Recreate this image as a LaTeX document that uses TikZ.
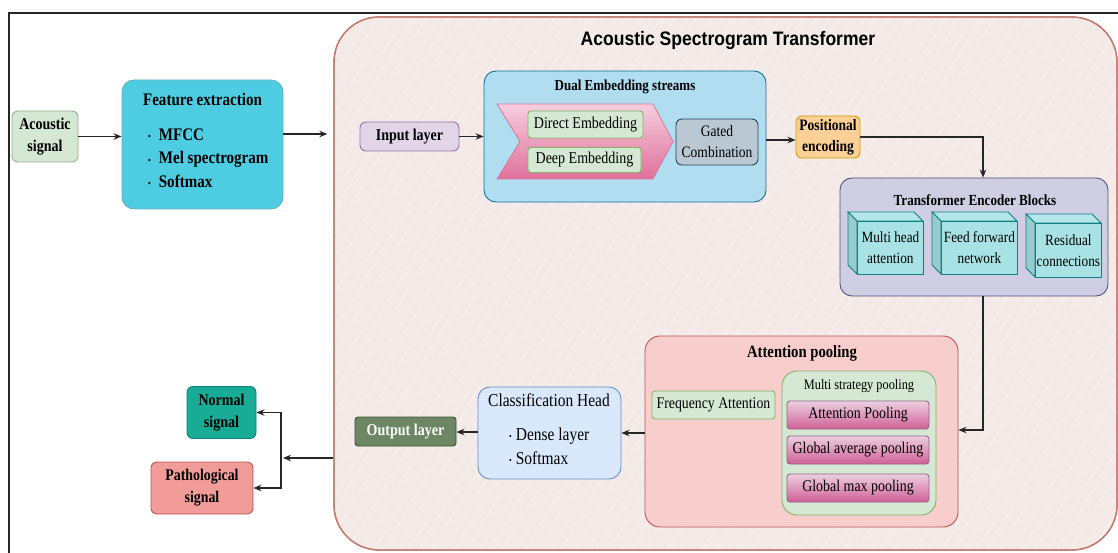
\documentclass[tikz,border=0pt]{standalone}
\usepackage{fontspec}
\setmainfont{Liberation Serif}[FakeStretch=0.85]
\setsansfont{Liberation Sans}[FakeStretch=0.9]
\usetikzlibrary{arrows.meta,calc}
\definecolor{acgf}{HTML}{D5E8D4}
\definecolor{acgd}{HTML}{9AAE93}
\definecolor{featf}{RGB}{78,205,226}
\definecolor{featd}{HTML}{6AAFC0}
\definecolor{astf}{RGB}{243,233,231}
\definecolor{astd}{RGB}{196,120,110}
\definecolor{inpf}{HTML}{E1D5E7}
\definecolor{inpd}{HTML}{9673A6}
\definecolor{dualf}{HTML}{B1DDF0}
\definecolor{duald}{HTML}{10739E}
\definecolor{chevA}{RGB}{246,206,222}
\definecolor{chevB}{RGB}{224,112,156}
\definecolor{chevd}{RGB}{214,120,158}
\definecolor{grnf}{HTML}{D5E8D4}
\definecolor{grnd}{HTML}{82B366}
\definecolor{gatf}{HTML}{BAC8D3}
\definecolor{gatd}{HTML}{23445D}
\definecolor{posf}{RGB}{250,208,150}
\definecolor{posd}{HTML}{D79B00}
\definecolor{trf}{HTML}{D0CEE2}
\definecolor{trd}{HTML}{56517E}
\definecolor{cubef}{RGB}{168,226,228}
\definecolor{cubed}{HTML}{0E8088}
\definecolor{apf}{HTML}{F8CECC}
\definecolor{apd}{HTML}{B85450}
\definecolor{pinkA}{RGB}{236,208,224}
\definecolor{pinkB}{RGB}{208,96,150}
\definecolor{pinkd}{HTML}{996185}
\definecolor{clf}{HTML}{DAE8FC}
\definecolor{cld}{HTML}{6C8EBF}
\definecolor{outf}{HTML}{6D8764}
\definecolor{outd}{HTML}{3A5431}
\definecolor{normf}{RGB}{24,172,150}
\definecolor{normd}{HTML}{0E8088}
\definecolor{patf}{HTML}{F19C99}
\definecolor{patd}{HTML}{B85450}
\newcommand{\bulA}{\raisebox{0.5pt}{\fontsize{9}{9}\selectfont\textbullet}\hspace{8pt}}
\newcommand{\bulB}{\raisebox{0.5pt}{\fontsize{9}{9}\selectfont\textbullet}\hspace{4pt}}
\newcommand{\mycube}[6]{%
  \draw[cubed, fill=cubef!85!white, line width=0.8pt] (#1,#2) -- (#3-9,#2) -- (#3,#2+9) -- (#1+9,#2+9) -- cycle;
  \draw[cubed, fill=cubef!90!black, line width=0.8pt] (#1,#2) -- (#1+9,#2+9) -- (#1+9,#4) -- (#1,#4-9) -- cycle;
  \node[cubed, draw, fill=cubef, line width=0.8pt, anchor=north west, inner sep=0pt, align=center,
        minimum width={#3-#1-9}, minimum height={#4-#2-9}, text=black,
        font=\fontsize{15.6}{21}\selectfont] (#5) at (#1+9,#2+9) {#6};}
\tikzset{
  box/.style={draw, rounded corners=6pt, align=center, inner sep=0pt, line width=0.9pt},
  arr/.style={-{Stealth[length=8pt,width=6.5pt]}, line width=1.2pt, draw=black!85},
}
\begin{document}
\begin{tikzpicture}[x=1pt,y=-1pt]
\useasboundingbox (0,0) rectangle (1118,553);
% outer frame
\draw[line width=2pt, black!85] (9,553) -- (9,13) -- (1118,13);

% big container
\node[draw=astd, fill=astf, rounded corners=45pt, minimum width=783, minimum height=533, inner sep=0pt, line width=1.3pt] (ast) at (725.5,283.5) {};
\begin{scope}
  \clip[rounded corners=45pt] (334,17) rectangle (1117,550);
  \foreach \i in {0,...,160} {
    \pgfmathsetmacro{\xx}{4+\i*7.1+mod(\i*37,5)}
    \pgfmathsetmacro{\ww}{0.3+mod(\i*7,5)*0.25}
    \draw[white, opacity=0.4, line width=\ww pt] (\xx,560) -- ++(330,-560);
  }
\end{scope}
\draw[astd, line width=1.3pt, rounded corners=45pt] (334,17) rectangle (1117,550);

\node[font=\sffamily\bfseries\fontsize{19.5}{22}\selectfont] (title) at (728,41) {Acoustic Spectrogram Transformer};

% left part
\node[box, fill=acgf, draw=acgd, minimum width=66, minimum height=51, font=\bfseries\fontsize{16.5}{22}\selectfont] (acoustic) at (45,136.5) {Acoustic\\signal};
\node[box, rounded corners=12pt, fill=featf, draw=featd, minimum width=161, minimum height=129] (feature) at (202.5,144.5) {};
\node[font=\bfseries\fontsize{17.7}{20}\selectfont] (featT) at (202.5,99) {Feature extraction};
\node[anchor=west, align=left, inner sep=0pt, font=\bfseries\fontsize{17.7}{23.5}\selectfont] (featL) at (148,158) {\bulA MFCC\\ \bulA Mel spectrogram\\ \bulA Softmax};

\draw[arr] (acoustic.east) -- (feature.west |- acoustic.east);
\draw[arr, shorten >=6pt] (feature.east |- 0,134) -- (ast.west |- 0,134);

% input & dual embedding
\node[box, fill=inpf, draw=inpd, minimum width=99, minimum height=29, font=\bfseries\fontsize{16.5}{19}\selectfont] (input) at (409.5,136.5) {Input layer};
\node[box, rounded corners=12pt, fill=dualf, draw=duald, minimum width=282, minimum height=131] (dual) at (625,136.5) {};
\node[font=\bfseries\fontsize{15.3}{18}\selectfont] (dualT) at (625,87) {Dual Embedding streams};
\draw[draw=chevd, line width=0.8pt, top color=chevA, bottom color=chevB] (497,104) -- (653,104) -- (673,141.5) -- (653,179) -- (497,179) -- (520,141.5) -- cycle;
\node[box, rounded corners=3pt, fill=grnf, draw=grnd, minimum width=115, minimum height=27, font=\fontsize{16.5}{19}\selectfont] (direct) at (585.5,124.5) {Direct Embedding};
\node[box, rounded corners=3pt, fill=grnf, draw=grnd, minimum width=113, minimum height=25, font=\fontsize{16.5}{19}\selectfont] (deep) at (584.5,160) {Deep Embedding};
\node[box, fill=gatf, draw=gatd, minimum width=82, minimum height=46, font=\fontsize{15.9}{21}\selectfont] (gated) at (717,142) {Gated\\Combination};
\draw[arr] (input.east) -- (dual.west |- input.east);

\node[box, fill=posf, draw=posd, minimum width=64, minimum height=42, font=\bfseries\fontsize{15.9}{21}\selectfont] (pos) at (828,137) {Positional\\encoding};
\draw[arr] (dual.east |- 0,140) -- (pos.west |- 0,140);

% transformer
\node[box, rounded corners=12pt, fill=trf, draw=trd, minimum width=268, minimum height=118] (trans) at (974,237) {};
\node[font=\bfseries\fontsize{15.4}{18}\selectfont] (transT) at (975,200) {Transformer Encoder Blocks};
\mycube{848}{212}{923}{274}{mha}{Multi head\\attention}
\mycube{932}{212}{1017}{274}{ffn}{Feed forward\\network}
\mycube{1026}{214}{1101}{277}{res}{Residual\\connections}
\draw[arr] (pos.east) -- (983,137) -- (trans.north -| 983,0);

% attention pooling
\node[box, rounded corners=15pt, fill=apf, draw=apd, minimum width=313, minimum height=191] (apool) at (801.5,431.5) {};
\node[font=\bfseries\fontsize{17.3}{20}\selectfont] (apoolT) at (802,353) {Attention pooling};
\node[box, rounded corners=3pt, fill=grnf, draw=grnd, minimum width=123, minimum height=28, font=\fontsize{16.2}{19}\selectfont] (freq) at (713.5,405) {Frequency Attention};
\node[box, rounded corners=15pt, fill=grnf, draw=grnd, minimum width=154, minimum height=144] (multi) at (859,443) {};
\node[font=\fontsize{14.5}{17}\selectfont] (multiT) at (859,386) {Multi strategy pooling};
\node[box, rounded corners=3pt, top color=pinkA, bottom color=pinkB, draw=pinkd, minimum width=142, minimum height=28, font=\fontsize{16.4}{19}\selectfont] (ap1) at (858,415) {Attention Pooling};
\node[box, rounded corners=3pt, top color=pinkA, bottom color=pinkB, draw=pinkd, minimum width=142, minimum height=28, font=\fontsize{16.4}{19}\selectfont] (ap2) at (858,450) {Global average pooling};
\node[box, rounded corners=3pt, top color=pinkA, bottom color=pinkB, draw=pinkd, minimum width=142, minimum height=28, font=\fontsize{16.4}{19}\selectfont] (ap3) at (858,488) {Global max pooling};
\draw[arr] (trans.south -| 983,0) -- (983,430) -- (apool.east |- 0,430);

% classification & output
\node[box, rounded corners=12pt, fill=clf, draw=cld, minimum width=143, minimum height=92] (cls) at (549.5,433) {};
\node[font=\fontsize{18.2}{21}\selectfont] (clsT) at (549,400) {Classification Head};
\node[anchor=west, align=left, inner sep=0pt, font=\fontsize{18.2}{24}\selectfont] (clsL) at (509,446) {\bulB Dense layer\\ \bulB Softmax};
\draw[arr] (apool.west |- 0,433) -- (cls.east |- 0,433);

\node[box, rounded corners=3pt, fill=outf, draw=outd, minimum width=101, minimum height=29, text=white, font=\bfseries\fontsize{16.5}{19}\selectfont] (out) at (405.5,431.5) {Output layer};
\draw[arr] (cls.west |- 0,432) -- (out.east |- 0,432);

% final outputs
\node[box, fill=normf, draw=normd, minimum width=69, minimum height=52, font=\bfseries\fontsize{16.5}{22}\selectfont] (normal) at (221.5,412.5) {Normal\\signal};
\node[box, fill=patf, draw=patd, minimum width=102, minimum height=52, font=\bfseries\fontsize{16.3}{22}\selectfont] (pathol) at (202,488) {Pathological\\signal};
\coordinate (split) at (281,458);
\draw[arr] (ast.west |- 0,458) -- ($(split)+(2,0)$);
\draw[arr] (split) |- (normal.east);
\draw[arr] (split) |- (pathol.east);
\end{tikzpicture}
\end{document}
